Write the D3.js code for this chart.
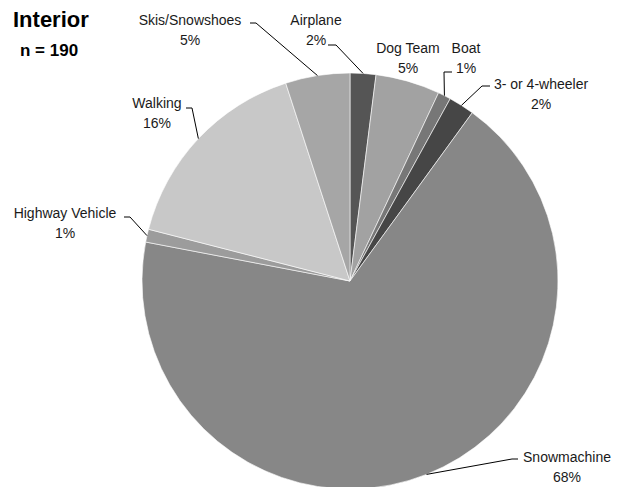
<!DOCTYPE html>
<html>
<head>
<meta charset="utf-8">
<script src="https://cdn.jsdelivr.net/npm/d3@7"></script>
<style>
  html, body { margin: 0; padding: 0; background: #fff; }
  svg { display: block; }
</style>
</head>
<body>
<div id="chart"></div>
<script>
// Interior region travel mode pie (n = 190)

const categories = ['Airplane', 'Dog Team', 'Boat', '3- or 4-wheeler', 'Snowmachine', 'Highway Vehicle', 'Walking', 'Skis/Snowshoes'];
const shares = [2, 5, 1, 2, 68, 1, 16, 5];
const percentLabels = ['2%', '5%', '1%', '2%', '68%', '1%', '16%', '5%'];
const sliceColors = ['#555555', '#a2a2a2', '#777777', '#464646', '#878787', '#9c9c9c', '#c8c8c8', '#a6a6a6'];

// label layout: text centre / first baseline, leader elbow and end (null = no leader)
const labelLayout = {
  'Airplane':        { x: 316, y: 25, elbow: [336, 45], end: [328, 45] },
  'Dog Team':        { x: 408, y: 53, elbow: null },
  'Boat':            { x: 466, y: 53, elbow: [444, 72], end: [452, 72] },
  '3- or 4-wheeler': { x: 541, y: 89, elbow: [482, 86], end: [490, 86] },
  'Snowmachine':     { x: 567, y: 462, elbow: [512, 459], end: [518, 459] },
  'Highway Vehicle': { x: 65, y: 218, elbow: [130, 217], end: [124, 217] },
  'Walking':         { x: 157, y: 108, elbow: [192, 108], end: [186, 108] },
  'Skis/Snowshoes':  { x: 190, y: 25, elbow: [256, 23], end: [250, 23] }
};

const width = 618, height = 487;
const cx = 350, cy = 281, radius = 208;

const data = categories.map((c, i) => ({ name: c, value: shares[i], pct: percentLabels[i], color: sliceColors[i] }));

const svg = d3.select('#chart')
  .append('svg')
  .attr('width', width)
  .attr('height', height)
  .style('font-family', '"Liberation Sans", Arial, sans-serif');

const pie = d3.pie()
  .sort(null)
  .value(d => d.value);

const arc = d3.arc()
  .innerRadius(0)
  .outerRadius(radius);

const edgeArc = d3.arc()
  .innerRadius(radius)
  .outerRadius(radius);

const arcs = pie(data);

const g = svg.append('g')
  .attr('transform', `translate(${cx}, ${cy})`);

g.selectAll('.slice')
  .data(arcs)
  .enter()
  .append('path')
  .attr('class', 'slice')
  .attr('d', arc)
  .attr('fill', d => d.data.color)
  .attr('stroke', '#ffffff')
  .attr('stroke-width', 0.6);

// Leader lines
const leaders = arcs.filter(d => labelLayout[d.data.name].elbow);

svg.selectAll('.leader')
  .data(leaders)
  .enter()
  .append('polyline')
  .attr('class', 'leader')
  .attr('fill', 'none')
  .attr('stroke', '#000')
  .attr('stroke-width', 1)
  .attr('points', d => {
    const p = edgeArc.centroid(d);
    const L = labelLayout[d.data.name];
    return [[p[0] + cx, p[1] + cy], L.elbow, L.end].map(q => q.join(',')).join(' ');
  });

// Labels (name + percent)
const labels = svg.selectAll('.slice-label')
  .data(arcs)
  .enter()
  .append('text')
  .attr('class', 'slice-label')
  .attr('text-anchor', 'middle')
  .style('font-size', '14px')
  .style('fill', '#1a1a1a');

labels.append('tspan')
  .attr('x', d => labelLayout[d.data.name].x)
  .attr('y', d => labelLayout[d.data.name].y)
  .text(d => d.data.name);

labels.append('tspan')
  .attr('x', d => labelLayout[d.data.name].x)
  .attr('y', d => labelLayout[d.data.name].y + 20)
  .text(d => d.data.pct);

// Title
svg.append('text')
  .attr('x', 13)
  .attr('y', 27)
  .style('font-size', '22px')
  .style('font-weight', 'bold')
  .style('fill', '#000')
  .text('Interior');

svg.append('text')
  .attr('x', 20)
  .attr('y', 56)
  .style('font-size', '17px')
  .style('font-weight', 'bold')
  .style('fill', '#000')
  .text('n = 190');
</script>
</body>
</html>
